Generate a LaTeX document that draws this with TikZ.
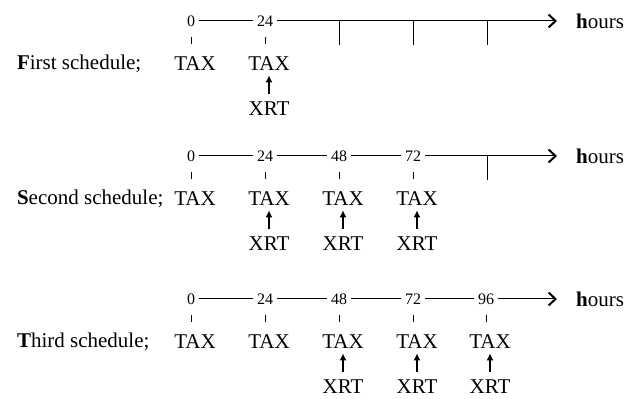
\documentclass[tikz,border=0pt]{standalone}
\usepackage{fontspec}
\setmainfont{Liberation Serif}
\usetikzlibrary{arrows.meta}
\begin{document}
\begin{tikzpicture}[x=0.5pt, y=-0.5pt, font=\fontsize{10.5}{12}\selectfont,
    hr/.style={font=\fontsize{8}{9}\selectfont, inner sep=2pt},
    drug/.style={inner sep=1pt},
    axis/.style={line width=0.5pt},
    tip/.style={-{Straight Barb[length=3.5pt,width=6.5pt,line width=1pt]}},
    give/.style={-{Latex[length=3.5pt,width=3.5pt]}, line width=0.7pt, shorten >=1pt, shorten <=3pt}]
  \useasboundingbox (0,0) rectangle (624,399);
  % first schedule
  \node[anchor=west] (s1) at (10,64) {\textbf{F}irst schedule;};
  \node[hr] (a10) at (191,21) {0};
  \node[hr] (a124) at (265,21) {24};
  \coordinate (e1) at (557,21);
  \node[anchor=west] (h1) at (569,21) {\textbf{h}ours};
  \draw[axis] (a10) -- (a124);
  \draw[axis, tip] (a124) -- (e1);
  \foreach \x in {339,413,487} \draw[axis] (\x,21) -- (\x,45);
  \foreach \x in {191,265} \draw[axis] (\x,37) -- (\x,44);
  \node[drug] (t10) at (195,64) {TAX};
  \node[drug] (t124) at (269,64) {TAX};
  \node[drug] (x124) at (269,109) {XRT};
  \draw[give] (x124) -- (t124);
  % second schedule
  \node[anchor=west] (s2) at (10,199) {\textbf{S}econd schedule;};
  \foreach \t/\x in {0/191, 24/265, 48/339, 72/413} {
    \node[hr] (a2\t) at (\x,156) {\t};
    \draw[axis] (\x,172) -- (\x,179);
    \node[drug] (t2\t) at (\x+4,199) {TAX};
  }
  \coordinate (e2) at (557,156);
  \node[anchor=west] (h2) at (569,156) {\textbf{h}ours};
  \draw[axis] (a20) -- (a224) -- (a248) -- (a272);
  \draw[axis, tip] (a272) -- (e2);
  \draw[axis] (487,156) -- (487,180);
  \foreach \t/\x in {24/265, 48/339, 72/413} {
    \node[drug] (x2\t) at (\x+4,244) {XRT};
    \draw[give] (x2\t) -- (t2\t);
  }
  % third schedule
  \node[anchor=west] (s3) at (10,342) {\textbf{T}hird schedule;};
  \foreach \t/\x in {0/191, 24/265, 48/339, 72/413, 96/486} {
    \node[hr] (a3\t) at (\x,299) {\t};
    \draw[axis] (\x,315) -- (\x,322);
    \node[drug] (t3\t) at (\x+4,342) {TAX};
  }
  \coordinate (e3) at (557,299);
  \node[anchor=west] (h3) at (569,299) {\textbf{h}ours};
  \draw[axis] (a30) -- (a324) -- (a348) -- (a372) -- (a396);
  \draw[axis, tip] (a396) -- (e3);
  \foreach \t/\x in {48/339, 72/413, 96/486} {
    \node[drug] (x3\t) at (\x+4,387) {XRT};
    \draw[give] (x3\t) -- (t3\t);
  }
\end{tikzpicture}
\end{document}
